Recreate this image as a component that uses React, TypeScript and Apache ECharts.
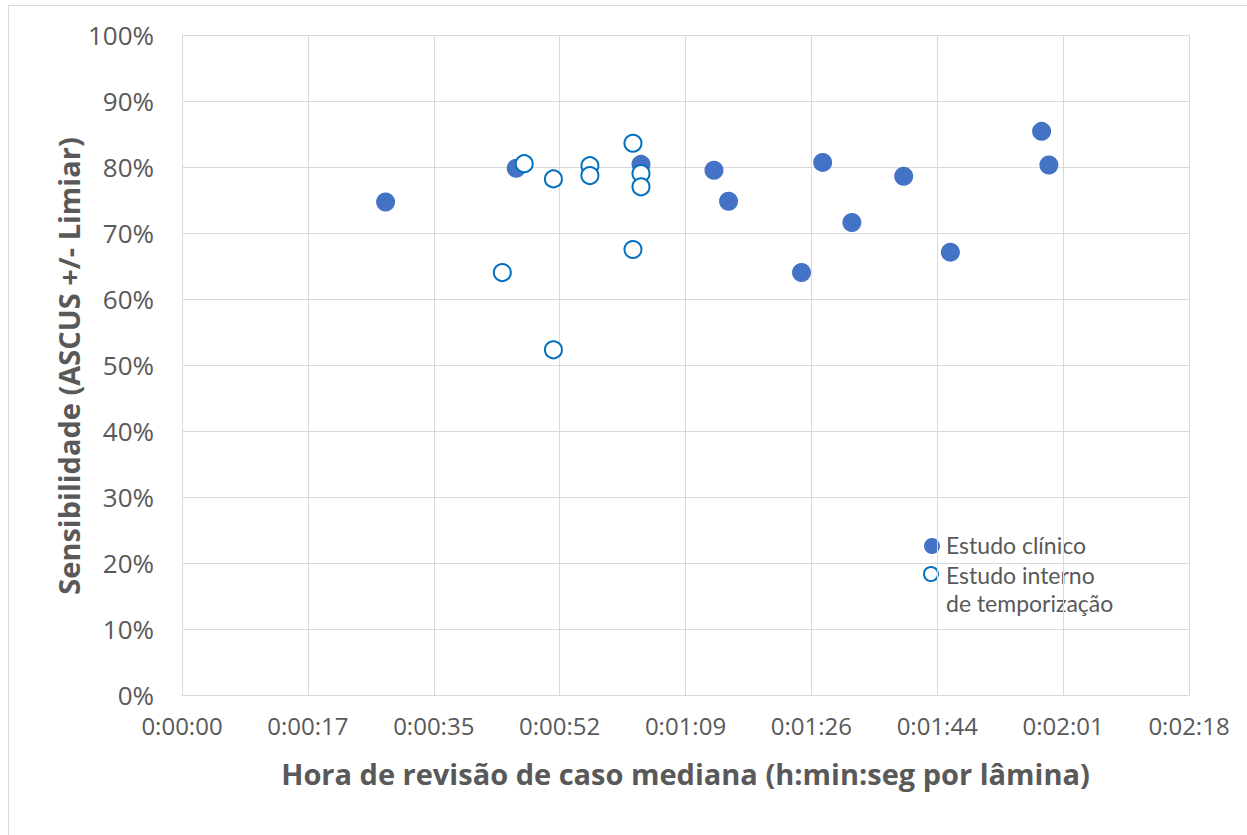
import React, { useEffect, useRef } from "react";
import * as echarts from "echarts";

// Data: x in seconds (median case review time per slide), y in % sensitivity
const clinicalX = [27.9, 45.8, 62.9, 72.9, 74.9, 84.9, 87.8, 91.8, 98.9, 105.3, 117.8, 118.8];
const clinicalY = [74.7, 79.8, 80.4, 79.5, 74.8, 64.0, 80.7, 71.6, 78.6, 67.1, 85.4, 80.3];
const internalX = [46.9, 50.9, 55.9, 55.9, 61.8, 62.9, 62.9, 61.8, 43.9, 50.9];
const internalY = [80.5, 78.2, 80.2, 78.7, 83.6, 79.0, 77.0, 67.5, 64.0, 52.3];
const xTickLabels = ["0:00:00", "0:00:17", "0:00:35", "0:00:52", "0:01:09", "0:01:26", "0:01:44", "0:02:01", "0:02:18"];
const xStep = 17.25;
const seriesNames = ["Estudo clínico", "Estudo interno\nde temporização"];
const xTitle = "Hora de revisão de caso mediana (h:min:seg por lâmina)";
const yTitle = "Sensibilidade (ASCUS +/- Limiar)";

export default function App() {
  const ref = useRef<HTMLDivElement>(null);
  useEffect(() => {
    if (!ref.current) return;
    const chart = echarts.init(ref.current, null, { renderer: "svg" });
    const grey = "#595959";
    const gridC = "#d9d9d9";
    const legendFont = "23px Lato";
    const name2Lines = seriesNames[1].split("\n");
    chart.setOption({
      animation: false,
      backgroundColor: "#ffffff",
      grid: { left: 182, top: 35, right: 58, bottom: 140 },
      xAxis: {
        type: "value",
        min: 0,
        max: xStep * (xTickLabels.length - 1),
        interval: xStep,
        axisLine: { show: true, lineStyle: { color: gridC, width: 1 } },
        axisTick: { show: false },
        splitLine: { show: true, lineStyle: { color: gridC, width: 1 } },
        axisLabel: {
          color: grey,
          fontFamily: "Open Sans",
          fontSize: 24,
          margin: 18,
          formatter: (v: number) => xTickLabels[Math.round(v / xStep)] ?? "",
        },
        name: xTitle,
        nameLocation: "middle",
        nameGap: 64,
        nameTextStyle: { color: grey, fontFamily: "Open Sans", fontWeight: "bold", fontSize: 29 },
      },
      yAxis: {
        type: "value",
        min: 0,
        max: 100,
        interval: 10,
        axisLine: { show: true, lineStyle: { color: gridC, width: 1 } },
        axisTick: { show: false },
        splitLine: { show: true, lineStyle: { color: gridC, width: 1 } },
        axisLabel: {
          color: grey,
          fontFamily: "Open Sans",
          fontSize: 26,
          margin: 28,
          formatter: "{value}%",
        },
      },
      series: [
        {
          name: seriesNames[0],
          type: "scatter",
          symbol: "circle",
          symbolSize: 19,
          itemStyle: { color: "#4472C4", opacity: 1 },
          data: clinicalX.map((x, i) => [x, clinicalY[i]]),
          z: 2,
        },
        {
          name: seriesNames[1],
          type: "scatter",
          symbol: "circle",
          symbolSize: 17,
          itemStyle: { color: "#ffffff", borderColor: "#0070C0", borderWidth: 2, opacity: 1 },
          data: internalX.map((x, i) => [x, internalY[i]]),
          z: 3,
        },
      ],
      graphic: [
        {
          type: "rect",
          z: -10,
          silent: true,
          shape: { x: 8.5, y: 5.5, width: 1400, height: 1000 },
          style: { fill: "none", stroke: gridC, lineWidth: 1 },
        },
        {
          type: "text",
          z: 100,
          x: 68,
          y: 366,
          rotation: Math.PI / 2,
          style: {
            text: yTitle,
            fill: grey,
            font: "bold 29px 'Open Sans'",
            align: "center",
            verticalAlign: "middle",
          },
        },
        {
          type: "group",
          z: 100,
          children: [
            {
              type: "rect",
              shape: { x: 913, y: 528, width: 262, height: 62 },
              style: { fill: "#ffffff" },
            },
            {
              type: "circle",
              shape: { cx: 932, cy: 546, r: 8 },
              style: { fill: "#4472C4" },
            },
            {
              type: "text",
              x: 946,
              y: 545,
              style: { text: seriesNames[0], fill: grey, font: legendFont, verticalAlign: "middle" },
            },
            {
              type: "circle",
              shape: { cx: 931, cy: 574, r: 7 },
              style: { fill: "#ffffff", stroke: "#0070C0", lineWidth: 2 },
            },
            {
              type: "text",
              x: 946,
              y: 575,
              style: { text: name2Lines[0], fill: grey, font: legendFont, verticalAlign: "middle" },
            },
            {
              type: "text",
              x: 946,
              y: 603,
              style: { text: name2Lines[1], fill: grey, font: legendFont, verticalAlign: "middle" },
            },
          ],
        },
      ],
    });
    return () => chart.dispose();
  }, []);
  return (
    <div
      ref={ref}
      style={{ position: "absolute", left: 0, top: 0, width: 1247, height: 835, background: "#fff" }}
    />
  );
}
